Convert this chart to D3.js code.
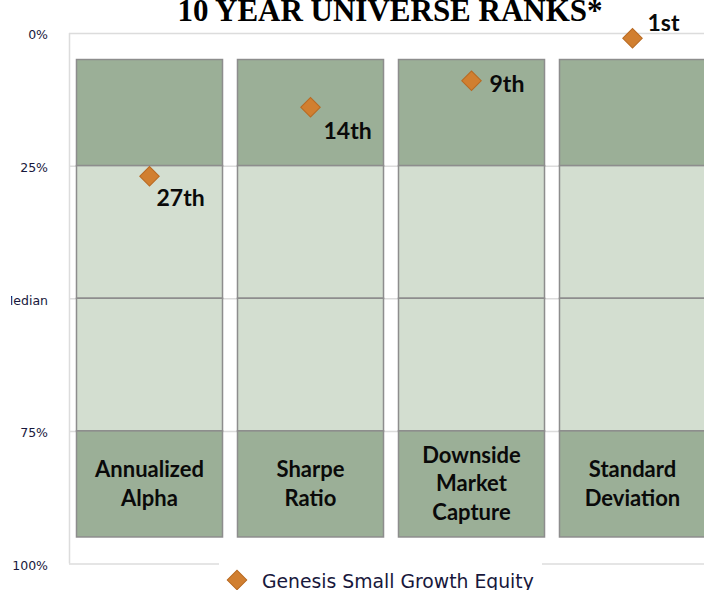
<!DOCTYPE html>
<html>
<head>
<meta charset="utf-8">
<script src="https://cdn.jsdelivr.net/npm/d3@7"></script>
<style>
  html, body { margin: 0; padding: 0; background: #fff; }
  svg { display: block; }
</style>
</head>
<body>
<svg id="chart" width="704" height="590"></svg>
<script>
// chart data
const categories = ['Annualized Alpha', 'Sharpe Ratio', 'Downside Market Capture', 'Standard Deviation'];
const categoryLines = [['Annualized', 'Alpha'], ['Sharpe', 'Ratio'], ['Downside', 'Market', 'Capture'], ['Standard', 'Deviation']];
const bandEdges = [5, 25, 50, 75, 95];
const bandShades = ['dark', 'light', 'light', 'dark'];
const ranks = [27, 14, 9, 1];
const rankLabels = ['27th', '14th', '9th', '1st'];
const tickValues = [0, 25, 50, 75, 100];
const tickLabels = ['0%', '25%', 'Median', '75%', '100%'];
const seriesName = 'Genesis Small Growth Equity';
const title = '10 YEAR UNIVERSE RANKS*';

// label offsets from each marker (px)
const labelOffsets = [[7, 30], [13, 32], [18, 11], [15, -7]];

let svg = d3.select('#chart');
let width = 704;

let margin = { left: 69, top: 33, bottom: 563.5 };

let x = d3.scaleBand()
  .domain(categories)
  .range([margin.left, 713])
  .paddingInner(0.093)
  .paddingOuter(0.0465);

let y = d3.scaleLinear()
  .domain([0, 100])
  .range([margin.top, margin.bottom]);

let colors = { dark: '#9baf97', light: '#d3ded0' };
let orange = '#d17f30';

// title
svg.append('text')
  .attr('x', 390)
  .attr('y', 21)
  .attr('text-anchor', 'middle')
  .attr('font-family', 'Liberation Serif, serif')
  .attr('font-weight', 'bold')
  .attr('font-size', 31)
  .text(title);

// grid + frame
svg.append('g')
  .selectAll('line').data(tickValues).enter().append('line')
  .attr('x1', margin.left)
  .attr('x2', width)
  .attr('y1', d => y(d) + 0.5)
  .attr('y2', d => y(d) + 0.5)
  .attr('stroke', '#dcdcdc')
  .attr('stroke-width', 1.5);

svg.append('line')
  .attr('x1', margin.left + 0.5).attr('x2', margin.left + 0.5)
  .attr('y1', y(0)).attr('y2', y(100))
  .attr('stroke', '#dcdcdc')
  .attr('stroke-width', 1.5);

// y tick labels
svg.append('clipPath').attr('id', 'labclip')
  .append('rect').attr('x', 11).attr('y', 0).attr('width', 60).attr('height', 590);

svg.append('g')
  .attr('clip-path', 'url(#labclip)')
  .selectAll('text').data(tickValues).enter().append('text')
  .attr('x', 48)
  .attr('y', d => y(d) + 2)
  .attr('dy', '0.35em')
  .attr('text-anchor', 'end')
  .attr('font-family', 'DejaVu Sans, sans-serif')
  .attr('font-size', 12.5)
  .attr('fill', '#18183c')
  .text((d, i) => tickLabels[i]);

// stacked bands
let segments = [];
categories.forEach(c => {
  bandShades.forEach((s, i) => {
    segments.push({ cat: c, y0: bandEdges[i], y1: bandEdges[i + 1], shade: s });
  });
});

svg.append('g')
  .selectAll('rect').data(segments).enter().append('rect')
  .attr('x', d => x(d.cat))
  .attr('y', d => y(d.y0))
  .attr('width', x.bandwidth())
  .attr('height', d => y(d.y1) - y(d.y0))
  .attr('fill', d => colors[d.shade])
  .attr('stroke', '#8d8d8d')
  .attr('stroke-width', 1.5);

// category names in the bottom band
let midBottom = (y(bandEdges[3]) + y(bandEdges[4])) / 2;
let lineH = 28.5;
categories.forEach((c, i) => {
  let lines = categoryLines[i];
  let t = svg.append('text')
    .attr('text-anchor', 'middle')
    .attr('font-family', 'Lato, sans-serif')
    .attr('font-weight', 'bold')
    .attr('font-size', 22)
    .attr('fill', '#0a0a0a');
  lines.forEach((l, j) => {
    t.append('tspan')
      .attr('x', x(c) + x.bandwidth() / 2)
      .attr('y', midBottom + (j - (lines.length - 1) / 2) * lineH + 7.5)
      .text(l);
  });
});

// diamonds
let diamond = d3.symbol().type(d3.symbolSquare).size(190);

svg.append('g')
  .selectAll('path').data(ranks).enter().append('path')
  .attr('d', diamond)
  .attr('transform', (d, i) => `translate(${x(categories[i]) + x.bandwidth() / 2},${y(d)}) rotate(45)`)
  .attr('fill', orange)
  .attr('stroke', '#b86a22')
  .attr('stroke-width', 1);

svg.append('g')
  .selectAll('text').data(ranks).enter().append('text')
  .attr('x', (d, i) => x(categories[i]) + x.bandwidth() / 2 + labelOffsets[i][0])
  .attr('y', (d, i) => y(d) + labelOffsets[i][1])
  .attr('font-family', 'Lato, sans-serif')
  .attr('font-weight', 'bold')
  .attr('font-size', 23)
  .attr('fill', '#0a0a0a')
  .text((d, i) => rankLabels[i]);

// legend
let legend = svg.append('g');
legend.append('rect')
  .attr('x', 219).attr('y', 558)
  .attr('width', 323).attr('height', 32)
  .attr('fill', '#fff');
legend.append('path')
  .attr('d', diamond)
  .attr('transform', 'translate(237,580) rotate(45)')
  .attr('fill', orange)
  .attr('stroke', '#b86a22')
  .attr('stroke-width', 1);
legend.append('text')
  .attr('x', 262)
  .attr('y', 588)
  .attr('font-family', 'DejaVu Sans, sans-serif')
  .attr('font-size', 18.8)
  .attr('fill', '#18183c')
  .text(seriesName);
</script>
</body>
</html>
